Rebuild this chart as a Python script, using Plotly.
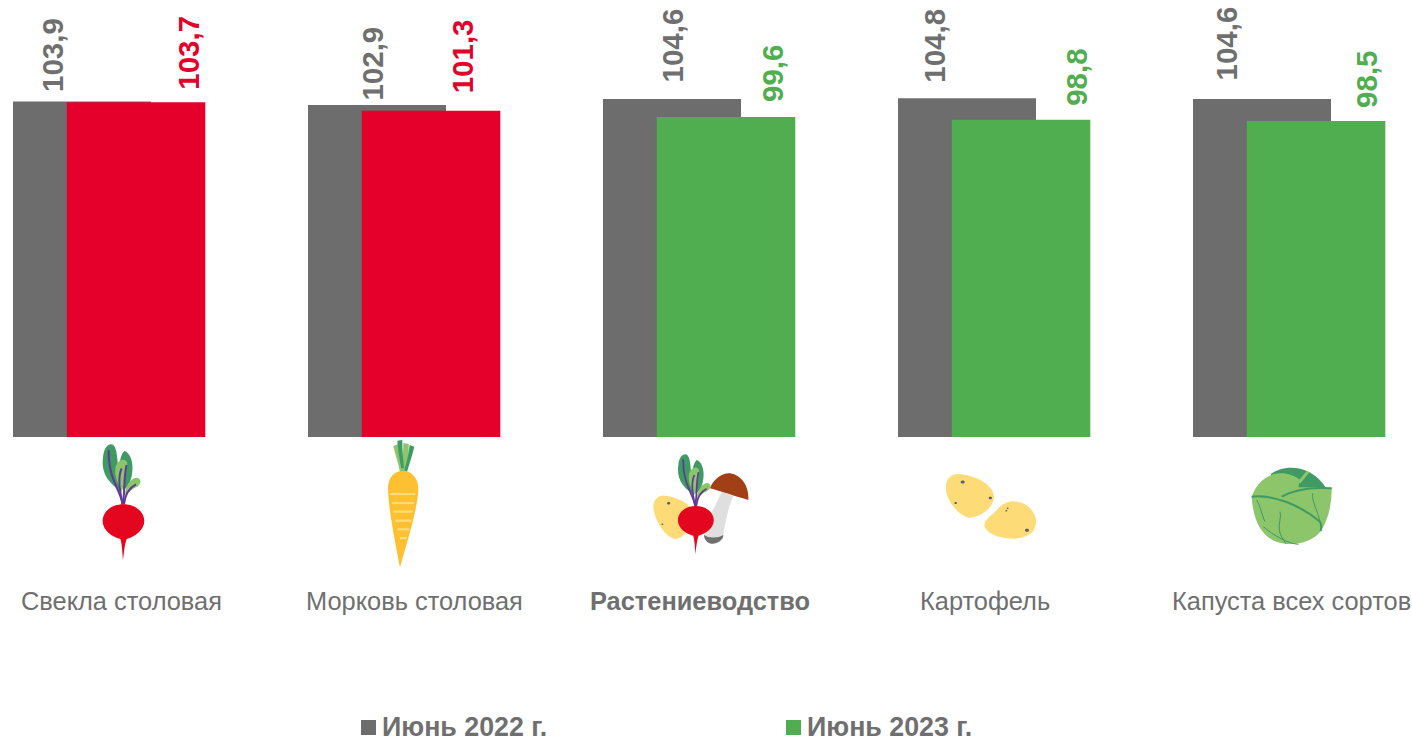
import re
import plotly.graph_objects as go

categories = ["Свекла столовая", "Морковь столовая", "Растениеводство", "Картофель", "Капуста всех сортов"]
values_2022 = [103.9, 102.9, 104.6, 104.8, 104.6]
values_2023 = [103.7, 101.3, 99.6, 98.8, 98.5]
labels_2022 = ["103,9", "102,9", "104,6", "104,8", "104,6"]
labels_2023 = ["103,7", "101,3", "99,6", "98,8", "98,5"]
colors_2023 = ["#e4002b", "#e4002b", "#50ae50", "#50ae50", "#50ae50"]
bold_category = [False, False, True, False, False]
legend_names = ["Июнь 2022 г.", "Июнь 2023 г."]

W, H = 1412, 742
GRAY = "#6d6d6d"
TXT = "#6f6f6f"
GREEN = "#50ae50"
LEAF_D = "#3f9b63"
LEAF_L = "#8cc56a"
PURPLE = "#5f3a96"
POT = "#fddc78"
CARROT = "#fdc030"
STRIPE = "#fddc7c"
DOT = "#5a5f6a"

# layout tuning
label_dx_2022 = [-57, -32, -27, -60, -63]
label_dx_2023 = [79, 58, 73, 82, 77]
label_gap_2022 = [7, 2, 14, 13, 16]
label_gap_2023 = [10, 15, 13, 12, 11]
cat_label_x = [121, 414, 700, 985, 1291]

fig = go.Figure()
fig.add_trace(go.Bar(x=categories, y=values_2022, name=legend_names[0], marker=dict(color=GRAY, line=dict(width=0)),
                     width=138 / 295, offset=-96.5 / 295, showlegend=False))
fig.add_trace(go.Bar(x=categories, y=values_2023, name=legend_names[1], marker=dict(color=colors_2023, line=dict(width=0)),
                     width=138.5 / 295, offset=-42.7 / 295, showlegend=False))

shapes = []


def conv(d, ox, oy, s, lx=0, ly=0):
    vals = iter(range(10 ** 6))

    def rep(m):
        i = next(vals)
        v = float(m.group(0))
        if i % 2 == 0:
            return f"{(ox + s * (v - lx)) / W:.5f}"
        return f"{1 - (oy + s * (v - ly)) / H:.5f}"

    return re.sub(r"-?\d+\.?\d*", rep, d)


def icon(d, tr, fill=None, line=None, lw=0):
    shapes.append(dict(type="path", xref="paper", yref="paper", path=conv(d, *tr),
                       fillcolor=fill if fill else "rgba(0,0,0,0)",
                       line=dict(color=line if line else "rgba(0,0,0,0)", width=lw), layer="above"))


def beet(cx, cy, k):
    tr = (cx, cy, k / 3, 190, 258)
    icon("M 185 170 C 140 140, 122 110, 130 60 C 133 35, 150 20, 162 32 C 176 50, 170 100, 184 150 Z", tr, LEAF_D)
    icon("M 190 165 C 178 120, 172 70, 193 48 C 210 52, 220 80, 217 110 C 214 135, 207 155, 190 165 Z", tr, LEAF_D)
    icon("M 186 168 C 163 130, 158 95, 178 78 C 195 68, 208 78, 200 105 C 197 125, 194 150, 186 168 Z", tr, LEAF_L)
    icon("M 195 182 C 196 150, 213 128, 232 128 C 248 133, 243 150, 228 157 C 215 164, 205 172, 195 182 Z", tr, LEAF_L)
    icon("M 188 208 C 182 165, 145 135, 146 45", tr, None, PURPLE, 2 * k)
    icon("M 188 208 C 196 170, 190 130, 200 90", tr, None, PURPLE, 2 * k)
    icon("M 188 208 C 180 170, 172 130, 185 100", tr, None, PURPLE, 2 * k)
    icon("M 192 208 C 195 180, 205 160, 228 148", tr, None, PURPLE, 2 * k)
    icon("M 190 208 C 225 208, 253 230, 253 258 C 253 285, 225 305, 200 312 C 195 325, 192 350, 189 376 "
         "C 187 350, 186 325, 181 312 C 155 305, 128 285, 128 258 C 128 230, 155 208, 190 208 Z", tr, "#e4051f")


# beetroot
beet(123.3, 521, 1.0)

# carrot
t = (60, 435, 1 / 3)
icon("M 1000 33 L 1014 28 C 1028 60, 1038 85, 1042 112 L 1020 112 C 1016 85, 1006 60, 1000 33 Z", t, LEAF_L)
icon("M 1030 24 L 1046 27 C 1047 60, 1042 90, 1040 112 L 1024 112 C 1026 85, 1030 55, 1030 24 Z", t, LEAF_L)
icon("M 1012 17 L 1027 15 C 1027 50, 1030 70, 1032 100 L 1024 100 C 1018 70, 1014 45, 1012 17 Z", t, LEAF_D)
icon("M 1049 30 L 1063 35 C 1057 60, 1049 85, 1041 110 L 1033 105 C 1040 85, 1045 60, 1049 30 Z", t, LEAF_D)
icon("M 1030 108 C 1000 108, 984 130, 984 160 C 985 220, 1005 320, 1020 398 "
     "C 1035 340, 1075 220, 1075 160 C 1075 130, 1055 108, 1030 108 Z", t, CARROT)
for sy, a, b in [(177, 991, 1066), (204, 996, 1062), (230, 1000, 1058), (257, 1006, 1054), (283, 1012, 1048), (309, 1020, 1040)]:
    icon(f"M {a} {sy} L {b} {sy}", t, None, STRIPE, 2.2)

# mixed icon
t = (630, 440, 1 / 3)
icon("M 105 167 C 140 170, 180 190, 190 215 C 190 260, 160 297, 135 297 C 105 290, 72 240, 70 200 C 70 180, 85 165, 105 167 Z", t, POT)
icon("M 275 155 C 260 190, 230 240, 222 285 C 225 305, 245 312, 260 310 C 275 305, 282 295, 280 285 C 285 250, 295 200, 310 168 Z", t, "#dfdfdf")
icon("M 222 285 C 235 295, 265 295, 280 285 C 280 300, 260 312, 245 311 C 232 310, 222 298, 222 285 Z", t, "#6f6f6f")
icon("M 240 145 C 250 115, 280 98, 300 100 C 335 105, 358 140, 355 180 C 320 170, 275 155, 240 145 Z", t, "#a04014")
for cx, cy, r in [(116, 190, 5), (97, 253, 3)]:
    icon(f"M {cx - r} {cy} C {cx - r} {cy - r}, {cx + r} {cy - r}, {cx + r} {cy} C {cx + r} {cy + r}, {cx - r} {cy + r}, {cx - r} {cy} Z", t, DOT)
beet(695.7, 520.3, 0.86)

# potatoes
icon("M 985 102 C 1030 105, 1090 130, 1092 170 C 1090 210, 1040 235, 1015 233 C 985 225, 945 180, 948 140 C 948 115, 965 100, 985 102 Z", t, POT)
icon("M 1150 184 C 1190 185, 1220 215, 1218 250 C 1215 285, 1180 297, 1145 296 C 1110 295, 1065 280, 1063 255 C 1065 235, 1090 225, 1105 205 C 1120 190, 1135 184, 1150 184 Z", t, POT)
for cx, cy, r in [(998, 126, 6), (1081, 174, 5), (977, 189, 4), (1191, 271, 6), (1133, 205, 3), (1129, 212, 3)]:
    icon(f"M {cx - r} {cy} C {cx - r} {cy - r}, {cx + r} {cy - r}, {cx + r} {cy} C {cx + r} {cy + r}, {cx - r} {cy + r}, {cx - r} {cy} Z", t, DOT)

# cabbage
t = (1230, 455, 1 / 3)
icon("M 122 57 C 160 28, 240 25, 288 98 L 160 130 Z", t, LEAF_D)
icon("M 65 125 C 80 80, 120 50, 160 55 C 185 58, 205 70, 210 75 L 205 97 L 285 97 L 305 100 "
     "C 305 150, 295 190, 275 225 C 250 260, 205 270, 165 266 C 110 262, 70 215, 65 125 Z", t, LEAF_L)
icon("M 203 80 L 230 48 L 238 52 L 212 85 Z", t, LEAF_L)
for d, w in [("M 65 125 C 130 118, 210 150, 270 200 C 276 212, 274 220, 272 228", 2),
             ("M 155 125 C 190 105, 240 95, 305 100", 2),
             ("M 80 135 C 90 150, 95 180, 105 200", 1),
             ("M 150 170 C 155 185, 145 205, 148 225 C 150 240, 160 255, 168 266", 1),
             ("M 100 215 C 130 240, 170 265, 205 268", 1),
             ("M 248 115 C 245 140, 262 165, 270 200", 1)]:
    icon(d, t, None, LEAF_D, w)

# legend squares
shapes.append(dict(type="rect", xref="paper", yref="paper", x0=361 / W, x1=376 / W, y0=1 - 735 / H, y1=1 - 720 / H,
                   fillcolor=GRAY, line=dict(width=0)))
shapes.append(dict(type="rect", xref="paper", yref="paper", x0=786 / W, x1=801 / W, y0=1 - 735 / H, y1=1 - 720 / H,
                   fillcolor=GREEN, line=dict(width=0)))

ann = []
FONT = "Liberation Sans, Arial, sans-serif"
for i, c in enumerate(categories):
    ann.append(dict(x=c, y=values_2022[i], xref="x", yref="y", text=f"<b>{labels_2022[i]}</b>", textangle=-90,
                    showarrow=False, xanchor="center", yanchor="bottom", xshift=label_dx_2022[i], yshift=label_gap_2022[i],
                    font=dict(size=29.5, color=TXT, family=FONT)))
    ann.append(dict(x=c, y=values_2023[i], xref="x", yref="y", text=f"<b>{labels_2023[i]}</b>", textangle=-90,
                    showarrow=False, xanchor="center", yanchor="bottom", xshift=label_dx_2023[i], yshift=label_gap_2023[i],
                    font=dict(size=29.5, color=colors_2023[i], family=FONT)))
    txt = f"<b>{c}</b>" if bold_category[i] else c
    ann.append(dict(x=cat_label_x[i] / W, y=1 - 601 / H, xref="paper", yref="paper", text=txt, showarrow=False,
                    xanchor="center", yanchor="middle", font=dict(size=25.4, color=TXT, family=FONT)))
for name, px in zip(legend_names, [381, 806]):
    ann.append(dict(x=px / W, y=1 - 727 / H, xref="paper", yref="paper", text=f"<b>{name}</b>", showarrow=False,
                    xanchor="left", yanchor="middle", xshift=-1, font=dict(size=26.8, color=TXT, family=FONT)))

AXIS_BASE = 10.7
PX_PER_UNIT = 3.6
fig.update_layout(
    width=W, height=H, margin=dict(l=0, r=0, t=0, b=0),
    paper_bgcolor="white", plot_bgcolor="white", barmode="overlay", showlegend=False,
    xaxis=dict(domain=[0, 1], range=[-109.5 / 295, (W - 109.5) / 295], showticklabels=False, showgrid=False,
               zeroline=False, ticks="", type="category", categoryorder="array", categoryarray=categories,
               anchor="y"),
    yaxis=dict(domain=[1 - 437 / H, 1], range=[AXIS_BASE, AXIS_BASE + 437 / PX_PER_UNIT], showticklabels=False,
               showgrid=False, zeroline=False, ticks=""),
    shapes=shapes, annotations=ann,
)
fig.write_html("out.html", config=dict(displayModeBar=False),
               post_script="document.body.style.margin='0';document.body.style.overflow='hidden';")
